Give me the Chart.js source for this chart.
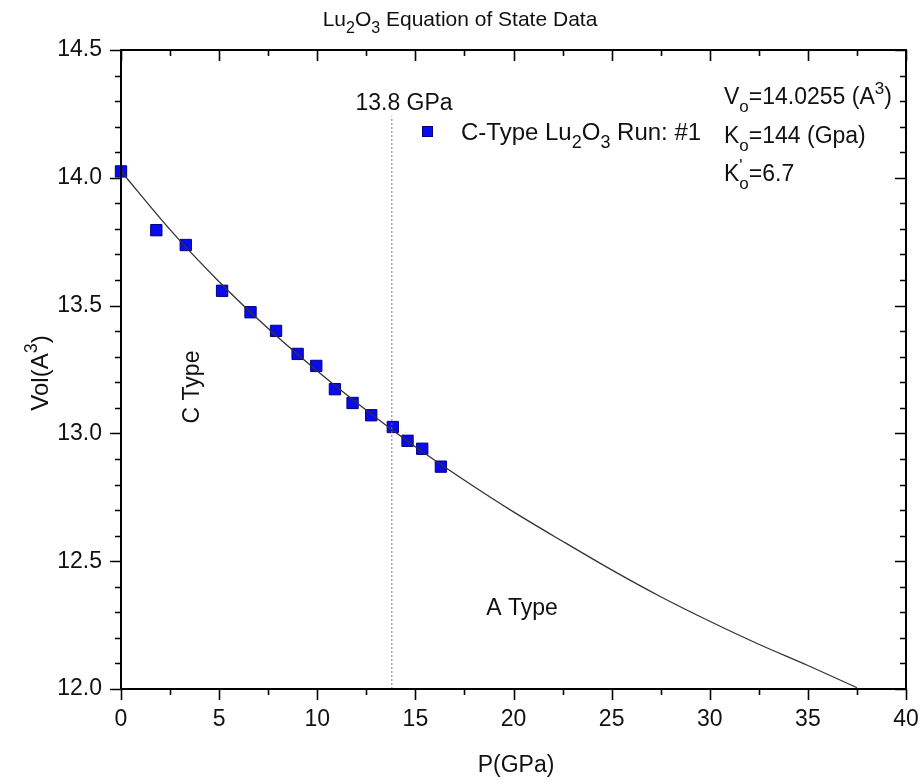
<!DOCTYPE html>
<html>
<head>
<meta charset="utf-8">
<script src="https://cdn.jsdelivr.net/npm/chart.js@4/dist/chart.umd.min.js"></script>
<style>
  html, body { margin: 0; padding: 0; background: #fff; }
</style>
</head>
<body>
<canvas id="eosChart" width="924" height="784"></canvas>
<script>
(() => {
  "use strict";

  // measured C-type run #1 (pressure in GPa, volume in A^3)
  const pressure = [0.0, 1.8, 3.3, 5.15, 6.6, 7.9, 9.0, 9.95, 10.9, 11.8, 12.75, 13.85, 14.6, 15.35, 16.3];
  const volume = [14.025, 13.795, 13.737, 13.558, 13.474, 13.401, 13.311, 13.264, 13.173, 13.119, 13.071, 13.025, 12.971, 12.940, 12.870];

  // fitted EOS curve
  const fitP = [0, 2.5, 5, 7.5, 10, 12.5, 15, 17.5, 20, 22.5, 25, 27.5, 30, 32.5, 35, 37.5];
  const fitV = [14.026, 13.797, 13.593, 13.41, 13.244, 13.091, 12.948, 12.817, 12.693, 12.578, 12.466, 12.361, 12.265, 12.175, 12.092, 12.005];

  // phase transition marker
  const transitionP = [13.8, 13.8];
  const transitionV = [12.0, 14.24];

  const xRange = [0, 40];
  const yRange = [12.0, 14.5];

  const FONT = "'Liberation Sans', Arial, Helvetica, sans-serif";
  const pts = (xs, ys) => xs.map((x, i) => ({ x, y: ys[i] }));

  // draw text with sub/superscripts: parts = [text, kind, noAdvance]
  function drawRich(ctx, parts, x, y, align, size) {
    const big = size + "px " + FONT;
    const small = Math.round(size * 0.74) + "px " + FONT;
    let w = 0;
    parts.forEach(([t, k, keep]) => {
      ctx.font = k ? small : big;
      if (!keep) w += ctx.measureText(t).width;
    });
    let cx = align === "center" ? x - w / 2 : x;
    ctx.textAlign = "left";
    ctx.textBaseline = "alphabetic";
    parts.forEach(([t, k, keep]) => {
      ctx.font = k ? small : big;
      const dy = k === "sub" ? size * 0.35 : k === "sup" ? -size * 0.45 : 0;
      ctx.fillText(t, cx, y + dy);
      if (!keep) cx += ctx.measureText(t).width;
    });
  }

  const framePlugin = {
    id: "frame",
    afterDraw(chart) {
      const { ctx, chartArea: a, scales } = chart;
      const sx = scales.x, sy = scales.y;
      ctx.save();
      ctx.strokeStyle = "#000";
      ctx.lineWidth = 2;
      ctx.strokeRect(a.left, a.top, a.right - a.left, a.bottom - a.top);

      ctx.lineWidth = 1.6;
      ctx.beginPath();
      for (let v = xRange[0]; v <= xRange[1] + 1e-9; v += 2.5) {
        const px = Math.round(sx.getPixelForValue(v)) + 0.5;
        const len = Math.abs(v % 5) < 1e-9 ? 11 : 6;
        ctx.moveTo(px, a.bottom); ctx.lineTo(px, a.bottom + len);
        ctx.moveTo(px, a.top); ctx.lineTo(px, a.top + len);
      }
      for (let i = 0; i <= 25; i++) {
        const v = yRange[0] + i * 0.1;
        const py = Math.round(sy.getPixelForValue(v)) + 0.5;
        const len = i % 5 === 0 ? 11 : 6;
        ctx.moveTo(a.left, py); ctx.lineTo(a.left - len, py);
        ctx.moveTo(a.right, py); ctx.lineTo(a.right - len, py);
      }
      ctx.stroke();

      ctx.fillStyle = "#111";
      // title
      drawRich(ctx, [["Lu"], ["2", "sub"], ["O"], ["3", "sub"], [" Equation of State Data"]], 460, 26, "center", 21);
      // axis titles
      drawRich(ctx, [["P(GPa)"]], 516, 772, "center", 23);
      ctx.save();
      ctx.translate(48, 373);
      ctx.rotate(-Math.PI / 2);
      drawRich(ctx, [["Vol(A"], ["3", "sup"], [")"]], 0, 0, "center", 24);
      ctx.restore();

      // transition label
      drawRich(ctx, [["13.8 GPa"]], 404, 110, "center", 23);

      // legend
      ctx.fillStyle = "#0a0af0";
      ctx.strokeStyle = "#000080";
      ctx.lineWidth = 1;
      ctx.fillRect(422, 126, 11, 11);
      ctx.strokeRect(422.5, 126.5, 10, 10);
      ctx.fillStyle = "#111";
      drawRich(ctx, [["C-Type Lu"], ["2", "sub"], ["O"], ["3", "sub"], [" Run: #1"]], 461, 140, "left", 24);

      // fit parameters
      drawRich(ctx, [["V"], ["o", "sub"], ["=14.0255 (A"], ["3", "sup"], [")"]], 724, 104, "left", 23);
      drawRich(ctx, [["K"], ["o", "sub"], ["=144 (Gpa)"]], 724, 143, "left", 23);
      drawRich(ctx, [["K"], ["'", "sup", true], ["o", "sub"], ["=6.7"]], 724, 181, "left", 23);

      // phase labels
      drawRich(ctx, [["A Type"]], 522, 615, "center", 23);
      ctx.save();
      ctx.translate(199, 387);
      ctx.rotate(-Math.PI / 2);
      drawRich(ctx, [["C Type"]], 0, 0, "center", 23);
      ctx.restore();
      ctx.restore();
    },
  };

  new Chart(document.getElementById("eosChart"), {
    type: "scatter",
    data: {
      datasets: [
        {
          label: "13.8 GPa",
          data: pts(transitionP, transitionV),
          showLine: true,
          borderColor: "#777",
          borderWidth: 1,
          borderDash: [2, 2],
          pointRadius: 0,
        },
        {
          label: "fit",
          data: pts(fitP, fitV),
          showLine: true,
          cubicInterpolationMode: "monotone",
          borderColor: "#333",
          borderWidth: 1.3,
          pointRadius: 0,
        },
        {
          label: "C-Type Lu2O3 Run: #1",
          data: pts(pressure, volume),
          pointStyle: "rect",
          pointRadius: 8,
          backgroundColor: "#0a0af0",
          borderColor: "#000080",
          borderWidth: 1,
          clip: false,
        },
      ],
    },
    options: {
      responsive: false,
      animation: false,
      layout: { padding: { top: 50, right: 18, left: 0, bottom: 0 } },
      plugins: { legend: { display: false }, tooltip: { enabled: false } },
      scales: {
        x: {
          type: "linear",
          min: xRange[0],
          max: xRange[1],
          grid: { display: false },
          border: { display: false },
          ticks: { stepSize: 5, padding: 9, color: "#111", font: { family: FONT, size: 23 } },
          afterFit: (s) => { s.height = 95; s.paddingLeft = 0; s.paddingRight = 0; },
        },
        y: {
          type: "linear",
          min: yRange[0],
          max: yRange[1],
          grid: { display: false },
          border: { display: false },
          ticks: {
            stepSize: 0.5,
            padding: 11,
            color: "#111",
            font: { family: FONT, size: 23 },
            callback: (v) => v.toFixed(1),
          },
          afterFit: (s) => { s.width = 121; s.paddingTop = 0; s.paddingBottom = 0; },
        },
      },
    },
    plugins: [framePlugin],
  });
})();
</script>
</body>
</html>
